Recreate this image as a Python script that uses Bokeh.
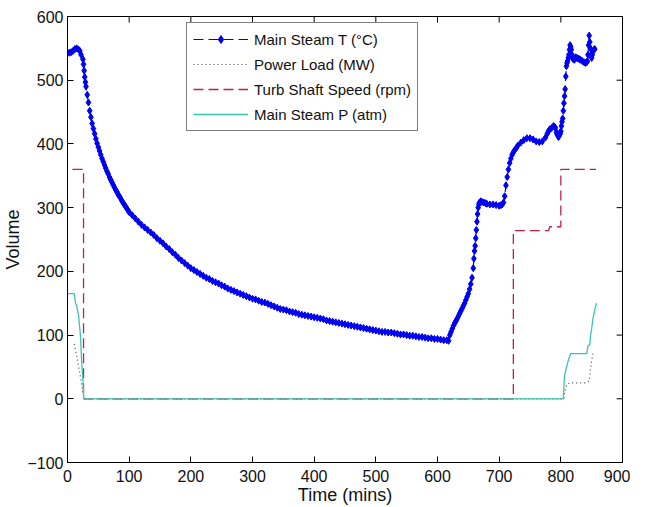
from bokeh.plotting import figure
from bokeh.models import Range1d, FixedTicker, Legend, LegendItem
from bokeh.embed import file_html
from bokeh.resources import INLINE

# ---- data ----
# Main Steam T: start plateau and steep fall (0-98 min)
temp_fall_time = [0, 3, 6, 9, 12, 15, 18, 20, 22, 25,
                  26, 27, 28, 29, 30, 32, 34, 36, 38, 40,
                  42, 44, 46, 48, 50, 52, 54, 56, 58, 60,
                  62, 64, 66, 68, 70, 72, 74, 76, 78, 80,
                  82, 84, 86, 88, 90, 92, 94, 96, 98]
temp_fall = [543, 543, 544, 546, 549, 550, 548, 546, 540, 533,
             525, 515, 505, 497, 490, 477, 465, 452, 442, 432,
             424, 416, 408, 401, 395, 389, 383, 377, 372, 367,
             362, 357, 353, 348, 344, 340, 336, 332, 328, 325,
             321, 318, 315, 311, 308, 305, 302, 299, 296]
# Main Steam T: slow decay (100-618 min)
temp_decay_time = [100, 105, 110, 115, 120, 125, 130, 135, 140, 145, 150, 155, 160, 165, 170, 175, 180, 185, 190, 195,
                   200, 205, 210, 215, 220, 225, 230, 235, 240, 245, 250, 255, 260, 265, 270, 275, 280, 285, 290, 295,
                   300, 305, 310, 315, 320, 325, 330, 335, 340, 345, 350, 355, 360, 365, 370, 375, 380, 385, 390, 395,
                   400, 405, 410, 415, 420, 425, 430, 435, 440, 445, 450, 455, 460, 465, 470, 475, 480, 485, 490, 495,
                   500, 505, 510, 515, 520, 525, 530, 535, 540, 545, 550, 555, 560, 565, 570, 575, 580, 585, 590, 595,
                   600, 605, 610, 615, 618]
temp_decay = [293, 288, 283, 278, 273, 269, 265, 261, 257, 252, 248, 244, 239, 235, 230, 226, 221, 217, 213, 209,
              205, 202, 199, 196, 193, 190, 188, 185, 183, 181, 178, 176, 173, 171, 169, 167, 165, 163, 161, 159,
              157, 156, 154, 152, 151, 149, 147, 145, 143, 141, 140, 139, 137, 136, 135, 133, 132, 131, 130, 129,
              128, 127, 126, 125, 123, 122, 121, 120, 119, 118, 117, 116, 115, 114, 113, 112, 111, 110, 109, 108,
              107, 106, 105, 105, 104, 104, 103, 102, 101, 101, 100, 99, 99, 98, 97, 97, 96, 95, 95, 94,
              94, 93, 92, 92, 91]
# Main Steam T: restart rise (620-730 min)
temp_rise_time = [620, 622, 624, 626, 628, 630, 632, 634, 636, 638,
                  640, 642, 644, 646, 648, 650, 652, 654, 656, 658,
                  659, 660, 661, 662, 663, 664, 665, 666, 667, 668,
                  670, 672, 675, 678, 680, 685, 690, 695, 700, 703,
                  705, 707, 709, 711, 713, 715, 717, 719, 721, 723,
                  725, 728, 730]
temp_rise = [100, 105, 110, 115, 119, 122, 126, 130, 134, 138,
             142, 146, 150, 155, 160, 165, 172, 180, 190, 205,
             220, 232, 240, 252, 265, 278, 290, 300, 305, 308,
             310, 309, 308, 307, 306, 305, 305, 304, 303, 304,
             305, 308, 318, 335, 348, 360, 370, 377, 383, 387,
             390, 394, 397]
# Main Steam T: final loading (735-855 min)
temp_top_time = [735, 740, 745, 750, 755, 760, 765, 770, 775, 778,
                 780, 782, 785, 788, 790, 791, 793, 794, 796, 797,
                 799, 800, 801, 802, 803, 804, 805, 806, 807, 808,
                 809, 810, 811, 812, 813, 814, 815, 816, 817, 818,
                 819, 820, 822, 824, 826, 828, 830, 832, 835, 838,
                 840, 842, 843, 844, 845, 846, 847, 848, 849, 850,
                 851, 852, 854, 855]
temp_top = [402, 406, 409, 409, 407, 404, 403, 404, 410, 416,
            420, 423, 425, 428, 427, 425, 418, 415, 411, 412,
            416, 420, 428, 435, 440, 452, 464, 475, 486, 506,
            522, 527, 530, 535, 540, 548, 555, 552, 548, 540,
            535, 533, 532, 536, 535, 534, 533, 532, 530, 528,
            527, 528, 530, 540, 555, 570, 560, 550, 540, 535,
            540, 545, 548, 549]

steam_t_time = temp_fall_time + temp_decay_time + temp_rise_time + temp_top_time
steam_t = temp_fall + temp_decay + temp_rise + temp_top

load_time = [11, 14, 17, 20, 23, 25, 27, 805, 807, 810, 815, 841, 846, 848, 850, 852, 853]
power_load = [86, 72, 56, 40, 22, 9, 0, 0, 15, 23, 25, 25, 28, 45, 60, 70, 72]

speed_time = [8, 26, 26, 723, 723, 780, 782, 800, 800, 857]
shaft_speed = [360, 360, 0, 0, 264, 264, 270, 270, 360, 360]

press_time = [0, 11, 13, 14, 15, 16, 18, 21, 23, 25, 26, 27, 804, 805, 806, 809, 812, 816, 842, 844, 847,
              848, 850, 852, 855, 858]
steam_p = [165, 165, 150, 148, 147, 140, 131, 99, 57, 30, 5, 0, 0, 20, 36, 49, 60, 71, 71, 83, 85,
           98, 110, 125, 140, 150]

x_ticks = [0, 100, 200, 300, 400, 500, 600, 700, 800, 900]
y_ticks = [-100, 0, 100, 200, 300, 400, 500, 600]

X_MIN, X_MAX = 0, 900
Y_MIN, Y_MAX = -100, 600

FONT = "Liberation Sans"

p = figure(width=630, height=499, output_backend="svg", toolbar_location=None,
           x_range=Range1d(X_MIN, X_MAX), y_range=Range1d(Y_MIN, Y_MAX),
           min_border_left=59, min_border_top=8, min_border_right=8, min_border_bottom=40,
           background_fill_color="white", border_fill_color="white")
p.margin = (8, 0, 0, 0)
p.grid.visible = False
p.outline_line_color = "black"
p.outline_line_width = 1

for ax, ticks in ((p.xaxis[0], x_ticks), (p.yaxis[0], y_ticks)):
    ax.ticker = FixedTicker(ticks=ticks)
    ax.major_tick_in = 6
    ax.major_tick_out = 0
    ax.minor_tick_line_color = None
    ax.axis_line_color = "black"
    ax.major_tick_line_color = "black"
    ax.major_label_text_font = FONT
    ax.major_label_text_font_size = "16px"
    ax.major_label_text_color = "#111111"
    ax.axis_label_text_font = FONT
    ax.axis_label_text_font_size = "18px"
    ax.axis_label_text_font_style = "normal"
    ax.axis_label_text_color = "#111111"

p.xaxis.axis_label = "Time (mins)"
p.yaxis.axis_label = "Volume"
p.xaxis.major_label_standoff = 7
p.xaxis.axis_label_standoff = 0
p.yaxis.major_label_standoff = 4
p.yaxis.axis_label_standoff = 1

# inward tick marks on the top and right edges of the box
n_x, n_y = len(x_ticks), len(y_ticks)
tick_len_y = 9.5   # data units ~ 6 px
tick_len_x = 9.6
p.segment(x0=x_ticks, y0=[Y_MAX] * n_x, x1=x_ticks, y1=[Y_MAX - tick_len_y] * n_x,
          line_color="black", line_width=1)
p.segment(x0=[X_MAX] * n_y, y0=y_ticks, x1=[X_MAX - tick_len_x] * n_y, y1=y_ticks,
          line_color="black", line_width=1)

BLUE = "#0000f0"
RED = "#c41e45"
CYAN = "#3cc4b0"
GRAY = "#444444"

t_line = p.line(steam_t_time, steam_t, line_color=BLUE, line_width=1.2, line_dash="10 5")
t_mark = p.scatter(steam_t_time, steam_t, marker="diamond", size=7, fill_color=BLUE, line_color=BLUE)
l_line = p.line(load_time, power_load, line_color=GRAY, line_width=1.2, line_dash="1 3")
s_line = p.line(speed_time, shaft_speed, line_color=RED, line_width=1.3, line_dash="10 5")
p_line = p.line(press_time, steam_p, line_color=CYAN, line_width=1.3)

legend = Legend(items=[
    LegendItem(label="Main Steam T (\u00b0C)", renderers=[t_line, t_mark]),
    LegendItem(label="Power Load (MW)", renderers=[l_line]),
    LegendItem(label="Turb Shaft Speed (rpm)", renderers=[s_line]),
    LegendItem(label="Main Steam P (atm)", renderers=[p_line]),
], location=(119, 331))
legend.label_text_font = FONT
legend.label_text_font_size = "15px"
legend.label_text_color = "#111111"
legend.border_line_color = "black"
legend.border_line_width = 1
legend.background_fill_color = "white"
legend.background_fill_alpha = 1
legend.padding = 6
legend.spacing = 5
legend.margin = 0
legend.glyph_width = 55
legend.glyph_height = 20
legend.label_height = 20
legend.label_standoff = 6
p.add_layout(legend, "center")

open("out.html", "w").write(file_html(p, INLINE))
